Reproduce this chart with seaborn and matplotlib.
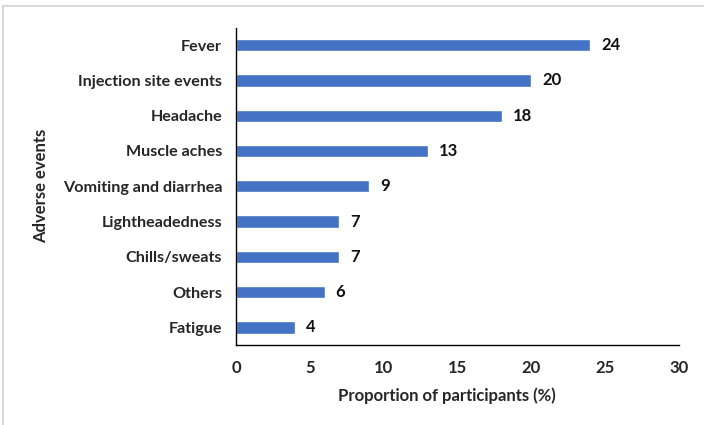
import matplotlib
matplotlib.use("Agg")
import matplotlib.pyplot as plt
import seaborn as sns
import pandas as pd
from matplotlib.lines import Line2D

events = ["Fever", "Injection site events", "Headache", "Muscle aches",
          "Vomiting and diarrhea", "Lightheadedness", "Chills/sweats",
          "Others", "Fatigue"]
proportions = [24, 20, 18, 13, 9, 7, 7, 6, 4]
x_ticks = [0, 5, 10, 15, 20, 25, 30]

df = pd.DataFrame({"event": events, "pct": proportions})

sns.set_theme(style="white")
plt.rcParams["font.family"] = ["Lato", "DejaVu Sans"]
plt.rcParams["font.weight"] = "bold"

fig = plt.figure(figsize=(7.04, 4.25), dpi=100)
ax = fig.add_axes([236 / 704, 1 - 345 / 425, (679 - 236) / 704, (345 - 27.5) / 425])

sns.barplot(data=df, x="pct", y="event", color="#4472C4", saturation=1,
            width=0.35, ax=ax, orient="h")

for p, v in zip(ax.patches, proportions):
    ax.text(p.get_width() + 0.75, p.get_y() + p.get_height() / 2, f"{v}",
            va="center", ha="left", fontsize=12, fontweight="bold", color="#111111")

ax.set_xlim(0, 30)
ax.set_xticks(x_ticks)
ax.set_xticklabels([str(t) for t in x_ticks], fontsize=12, fontweight="bold")
ax.tick_params(axis="y", labelsize=11.6, length=0, pad=10)
ax.tick_params(axis="x", length=0, pad=11)
for lbl in ax.get_yticklabels():
    lbl.set_fontweight("bold")
ax.set_xlabel("Proportion of participants (%)", fontsize=12, fontweight="bold", labelpad=7)
ax.xaxis.set_label_coords(0.477, -0.135)
ax.set_ylabel("Adverse events", fontsize=12, fontweight="bold", labelpad=10)

for side in ["top", "right"]:
    ax.spines[side].set_visible(False)
for side in ["left", "bottom"]:
    ax.spines[side].set_color("black")
    ax.spines[side].set_linewidth(1.0)

# frame lines along the left and top edges
fig.add_artist(Line2D([2.5 / 704, 2.5 / 704], [0, 1 - 5.5 / 425], transform=fig.transFigure,
                      color="#d9d9d9", linewidth=1.5))
fig.add_artist(Line2D([2.5 / 704, 1], [1 - 5.5 / 425, 1 - 5.5 / 425], transform=fig.transFigure,
                      color="#d9d9d9", linewidth=1.5))

fig.savefig("out.png", dpi=100)
